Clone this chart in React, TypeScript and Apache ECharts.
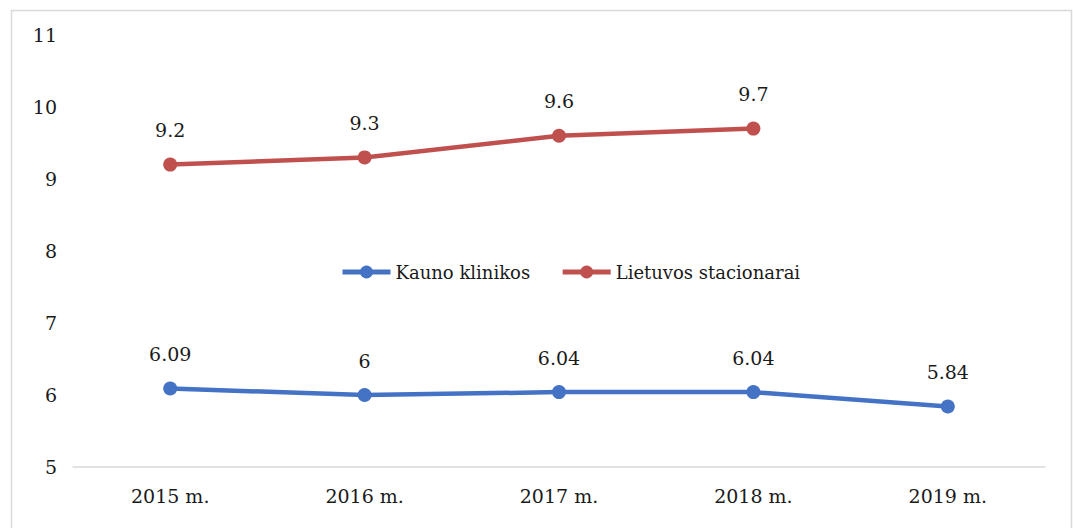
import React, { useEffect, useRef } from "react";
import * as echarts from "echarts";

const categories = ["2015 m.", "2016 m.", "2017 m.", "2018 m.", "2019 m."];
const kaunoKlinikos = [6.09, 6, 6.04, 6.04, 5.84];
const lietuvosStacionarai = [9.2, 9.3, 9.6, 9.7, null];
const seriesNames = ["Kauno klinikos", "Lietuvos stacionarai"];

const FONT = "DejaVu Serif";

export default function App() {
  const ref = useRef<HTMLDivElement>(null);
  useEffect(() => {
    if (!ref.current) return;
    const chart = echarts.init(ref.current, null, { renderer: "svg" });
    const labelCfg = {
      show: true,
      position: "top" as const,
      distance: 18,
      fontFamily: FONT,
      fontSize: 19,
      color: "#1a1a1a",
    };
    chart.setOption({
      animation: false,
      backgroundColor: "#ffffff",
      textStyle: { fontFamily: FONT },
      graphic: [
        {
          type: "rect",
          shape: { x: 11.5, y: 10.5, width: 1060, height: 530 },
          style: { fill: "none", stroke: "#d9d9d9", lineWidth: 1.5 },
          silent: true,
        },
      ],
      grid: { left: 73, right: 28, top: 35, bottom: 61, containLabel: false },
      legend: {
        left: 335,
        top: 258,
        itemWidth: 48,
        itemHeight: 16,
        itemGap: 30,
        lineStyle: { width: 5 },
        textStyle: { fontFamily: FONT, fontSize: 18, color: "#1a1a1a" },
        data: seriesNames,
      },
      xAxis: {
        type: "category",
        data: categories,
        axisLine: { show: true, lineStyle: { color: "#d9d9d9", width: 1.5 } },
        axisTick: { show: false },
        axisLabel: { fontFamily: FONT, fontSize: 19, color: "#1a1a1a", margin: 19 },
        splitLine: { show: false },
      },
      yAxis: {
        type: "value",
        min: 5,
        max: 11,
        interval: 1,
        axisLine: { show: false },
        axisTick: { show: false },
        splitLine: { show: false },
        axisLabel: { fontFamily: FONT, fontSize: 19, color: "#1a1a1a", margin: 16 },
      },
      series: [
        {
          name: seriesNames[0],
          type: "line",
          data: kaunoKlinikos,
          color: "#4472C4",
          lineStyle: { width: 4.5, color: "#4472C4" },
          itemStyle: { color: "#4472C4" },
          symbol: "circle",
          symbolSize: 14,
          label: labelCfg,
        },
        {
          name: seriesNames[1],
          type: "line",
          data: lietuvosStacionarai,
          color: "#C0504D",
          lineStyle: { width: 4.5, color: "#C0504D" },
          itemStyle: { color: "#C0504D" },
          symbol: "circle",
          symbolSize: 14,
          label: labelCfg,
        },
      ],
    });
    return () => chart.dispose();
  }, []);
  return (
    <div
      ref={ref}
      style={{ position: "fixed", left: 0, top: 0, width: 1073, height: 528 }}
    />
  );
}
